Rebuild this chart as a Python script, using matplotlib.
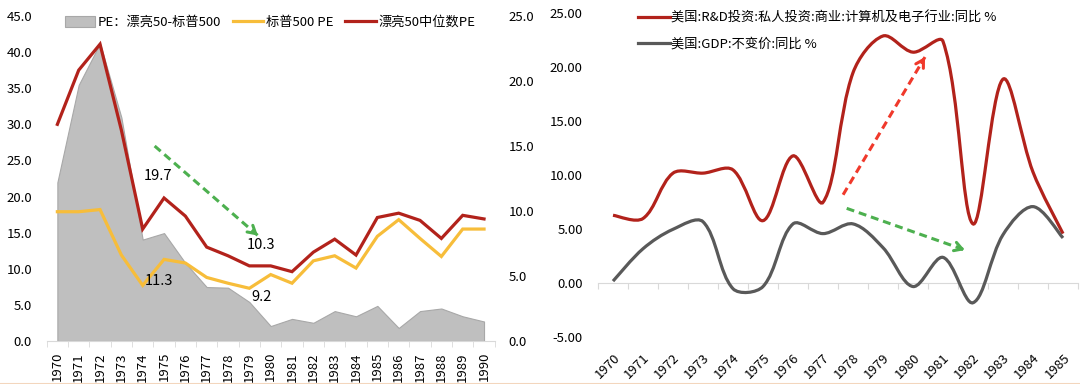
import numpy as np
import matplotlib
matplotlib.use('Agg')
import matplotlib.pyplot as plt
from matplotlib.path import Path
from matplotlib.patches import PathPatch
from matplotlib.lines import Line2D
from matplotlib.ticker import FormatStrFormatter

plt.rcParams['font.family'] = ['Noto Sans CJK SC', 'DejaVu Sans']
plt.rcParams['font.size'] = 9

# ---------------- data: left chart ----------------
years_left = [str(y) for y in range(1970, 1991)]
pe_spread = [12.2, 19.7, 22.9, 17.2, 7.8, 8.3, 6.0, 4.15, 4.1, 3.0, 1.15,
             1.7, 1.4, 2.3, 1.9, 2.7, 1.0, 2.3, 2.5, 1.9, 1.5]
sp500_pe = [17.9, 17.9, 18.2, 11.9, 7.7, 11.3, 10.8, 8.8, 8.0, 7.3, 9.2,
            8.0, 11.1, 11.8, 10.1, 14.5, 16.8, 14.2, 11.7, 15.5, 15.5]
nifty50_pe = [30.0, 37.5, 41.1, 29.2, 15.5, 19.8, 17.3, 13.0, 11.8, 10.4, 10.4,
              9.6, 12.3, 14.1, 11.9, 17.1, 17.7, 16.7, 14.2, 17.4, 16.9]
left_labels = ['PE：漂亮50-标普500', '标普500 PE', '漂亮50中位数PE']
left_notes = ['19.7', '10.3', '11.3', '9.2']

# ---------------- data: right chart ----------------
years_right = [str(y) for y in range(1970, 1986)]
rd_yoy = [6.3, 6.0, 10.2, 10.2, 10.5, 5.8, 11.8, 7.5, 19.5, 22.9, 21.4,
          22.4, 5.5, 18.9, 10.3, 4.6]
gdp_yoy = [0.2, 3.2, 5.0, 5.7, -0.5, -0.3, 5.5, 4.6, 5.5, 3.3, -0.3,
           2.4, -1.8, 4.5, 7.1, 4.2]
right_labels = ['美国:R&D投资:私人投资:商业:计算机及电子行业:同比 %',
                '美国:GDP:不变价:同比 %']

C_GRAY_AREA = '#bfbfbf'
C_YELLOW = '#F7BD3A'
C_RED = '#B2221B'
C_DGRAY = '#595959'
C_AXIS = '#d9d9d9'
C_GREEN = '#4DB04F'
C_ARROW_RED = '#F0392B'

W, H = 1080, 384
fig = plt.figure(figsize=(W / 100, H / 100), dpi=100)


def px_rect(l, t, r, b):
    return [l / W, 1 - b / H, (r - l) / W, (b - t) / H]


def smooth_path(ax, xs, ys):
    """Excel-style smoothed line: Bezier segments whose tangent lengths are
    weighted by on-screen segment lengths."""
    pts = np.column_stack([xs, ys]).astype(float)
    disp = ax.transData.transform(pts)
    n = len(pts)
    d = np.hypot(*(np.diff(disp, axis=0).T))  # display distances between points
    verts = [pts[0]]
    codes = [Path.MOVETO]
    for i in range(n - 1):
        p0 = pts[i - 1] if i > 0 else pts[i]
        p1 = pts[i]
        p2 = pts[i + 1]
        p3 = pts[i + 2] if i + 2 < n else pts[i + 1]
        d01 = d[i - 1] if i > 0 else d[i]
        d12 = d[i]
        d23 = d[i + 1] if i + 1 < n - 1 else d[i]
        f1 = d12 / (d01 + d12) / 3.0 if i > 0 else 1 / 6
        f2 = d12 / (d12 + d23) / 3.0 if i + 2 < n else 1 / 6
        verts += [p1 + (p2 - p0) * f1, p2 - (p3 - p1) * f2, p2]
        codes += [Path.CURVE4] * 3
    return Path(verts, codes)


def dashed_arrow(ax, start, end, color, lw=2.2):
    start = np.array(start, float)
    end = np.array(end, float)
    ax.plot([start[0], end[0]], [start[1], end[1]], color=color, lw=lw,
            ls=(0, (2.6, 1.6)), solid_capstyle='butt', dash_capstyle='butt', zorder=6)
    back = end - (end - start) * 0.04
    ax.annotate('', xy=end, xytext=back,
                arrowprops=dict(arrowstyle='->,head_length=0.6,head_width=0.35',
                                color=color, lw=lw, shrinkA=0, shrinkB=0),
                zorder=6)


# ================= LEFT CHART =================
xl = np.arange(len(years_left))
axA = fig.add_axes(px_rect(46.7, 16, 494.7, 341))
area = axA.fill_between(xl, pe_spread, 0, facecolor=C_GRAY_AREA,
                        edgecolor='#a8a8a8', lw=0.8, label=left_labels[0])
axA.set_xlim(-0.5, len(years_left) - 0.5)
axA.set_ylim(0, 25)

axL = axA.twinx()
l1, = axL.plot(xl, sp500_pe, color=C_YELLOW, lw=2.3, label=left_labels[1],
               solid_joinstyle='miter')
l2, = axL.plot(xl, nifty50_pe, color=C_RED, lw=2.3, label=left_labels[2],
               solid_joinstyle='miter')
axL.set_ylim(0, 45)

axA.yaxis.tick_right()
axL.yaxis.tick_left()
axA.set_yticks(np.arange(0, 26, 5))
axL.set_yticks(np.arange(0, 46, 5))
axA.yaxis.set_major_formatter(FormatStrFormatter('%.1f'))
axL.yaxis.set_major_formatter(FormatStrFormatter('%.1f'))
axA.tick_params(axis='y', length=0, pad=10, labelsize=9.5)
axL.tick_params(axis='y', length=0, pad=10.5, labelsize=9.5)

for ax in (axA, axL):
    for s in ax.spines.values():
        s.set_visible(False)
axA.spines['bottom'].set_visible(True)
axA.spines['bottom'].set_color(C_AXIS)
axA.set_xticks(xl)
axA.set_xticklabels(years_left, rotation=90, fontsize=9.5)
axA.set_xticks(np.arange(-0.5, len(years_left), 1), minor=True)
axA.tick_params(axis='x', which='major', length=0, pad=8)
axA.tick_params(axis='x', which='minor', length=4, color=C_AXIS)

# annotations
axL.text(4.74, 22.8, left_notes[0], ha='center', va='center', fontsize=10.5)
axL.text(9.56, 13.3, left_notes[1], ha='center', va='center', fontsize=10.5)
axL.text(4.75, 8.35, left_notes[2], ha='center', va='center', fontsize=10.5)
axL.text(9.58, 6.1, left_notes[3], ha='center', va='center', fontsize=10.5)
dashed_arrow(axL, (4.56, 27.0), (9.4, 14.6), C_GREEN)

axL.legend([area, l1, l2], left_labels, loc='center left',
           bbox_to_anchor=(0.04, 0.98), ncol=3, frameon=False,
           fontsize=9.5, handlelength=2.3, handleheight=0.9,
           handletextpad=0.2, columnspacing=0.9, borderpad=0, borderaxespad=0)

# ================= RIGHT CHART =================
xr = np.arange(len(years_right))
axR = fig.add_axes(px_rect(598, 13.3, 1078, 337.3))
axR.set_xlim(-0.5, len(years_right) - 0.5)
ylo, yhi = -5, 25
axR.set_ylim(ylo, yhi)

p_rd = PathPatch(smooth_path(axR, xr, rd_yoy), fill=False, edgecolor=C_RED,
                 lw=2.3, zorder=4)
p_gdp = PathPatch(smooth_path(axR, xr, gdp_yoy), fill=False, edgecolor=C_DGRAY,
                  lw=2.3, zorder=4)
axR.add_patch(p_rd)
axR.add_patch(p_gdp)

axR.set_yticks(np.arange(-5, 26, 5))
axR.yaxis.set_major_formatter(FormatStrFormatter('%.2f'))
axR.tick_params(axis='y', length=0, pad=11, labelsize=9.5)
for s in axR.spines.values():
    s.set_visible(False)

axR.set_xticks(xr)
axR.set_xticklabels(years_right, rotation=45, ha='right',
                    rotation_mode='anchor', fontsize=9.5)
axR.tick_params(axis='x', length=0, pad=10)

frac0 = (0 - ylo) / (yhi - ylo)
sec = axR.secondary_xaxis(frac0)
sec.set_xticks(np.arange(-0.5, len(years_right), 1))
sec.set_xticklabels([])
sec.tick_params(axis='x', length=4, color=C_AXIS, direction='out')
for name, s in sec.spines.items():
    s.set_color(C_AXIS)

dashed_arrow(axR, (7.67, 8.2), (10.4, 20.95), C_ARROW_RED)
dashed_arrow(axR, (7.79, 6.94), (11.73, 3.08), C_GREEN)

h1 = Line2D([], [], color=C_RED, lw=2.3)
h2 = Line2D([], [], color=C_DGRAY, lw=2.3)
axR.legend([h1, h2], right_labels, loc='center left',
           bbox_to_anchor=(0.083, 0.946), frameon=False, fontsize=9.5,
           handlelength=2.4, handletextpad=0.15, labelspacing=1.0,
           borderpad=0, borderaxespad=0)

fig.add_artist(Line2D([0, 1], [0.5 / H, 0.5 / H], transform=fig.transFigure,
                      color='#f3d6bd', lw=1.5))

fig.savefig('out.png', dpi=100)
